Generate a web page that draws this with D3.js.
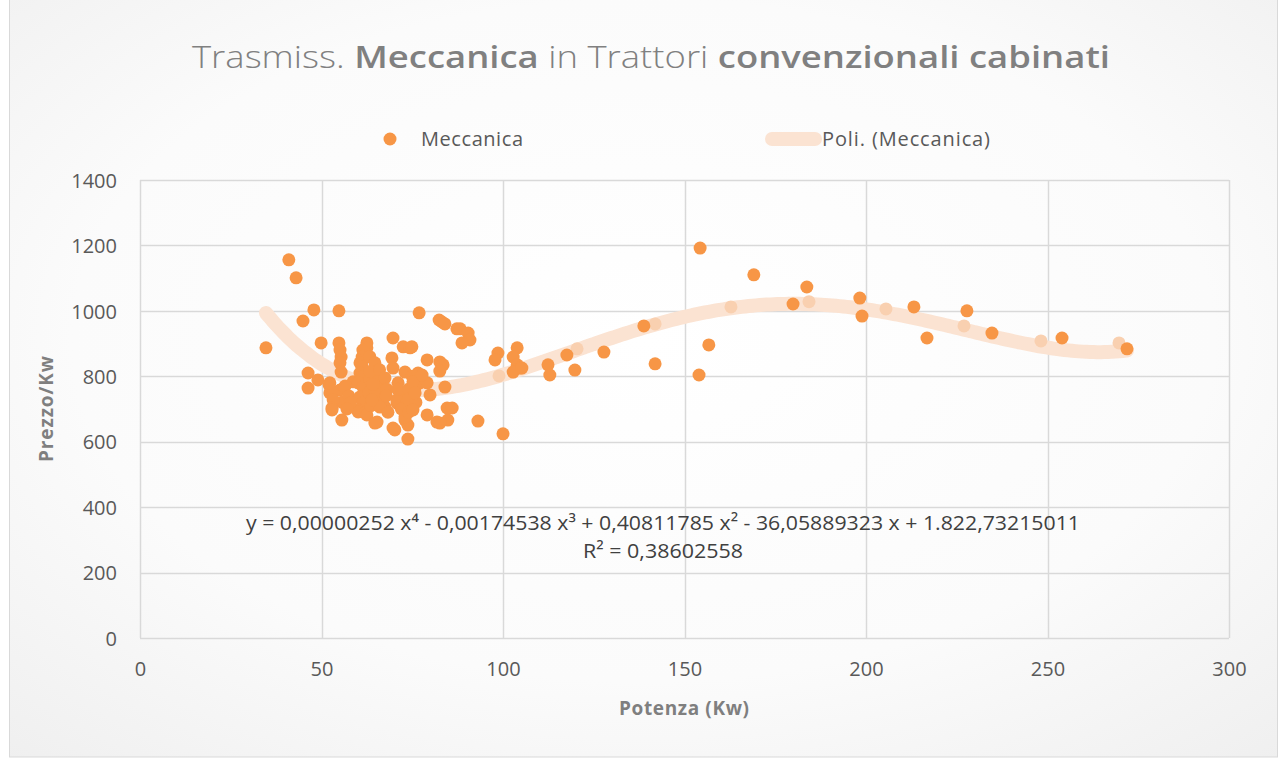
<!DOCTYPE html>
<html lang="it">
<head>
<meta charset="UTF-8">
<title>Trasmiss. Meccanica in Trattori convenzionali cabinati</title>
<style>
  body { margin: 0; background: #fff; }
  svg text { font-family: "Open Sans", sans-serif; }
</style>
</head>
<body>
<div id="chart"></div>
<script src="https://d3js.org/d3.v7.min.js"></script>
<script>
// potenza (Kw) / prezzo per Kw
var potenza = [34.7, 41.0, 43.0, 44.9, 47.9, 49.9, 46.3, 46.3, 49.0, 54.8,
  54.8, 55.1, 55.4, 55.1, 55.4, 55.1, 55.6, 55.6, 52.1, 52.3,
  53.2, 53.2, 52.9, 52.9, 58.7, 56.5, 57.5, 62.5, 62.5, 61.4,
  61.2, 61.2, 60.6, 61.2, 60.6, 61.2, 60.1, 61.4, 60.6, 61.4,
  60.1, 60.1, 62.0, 62.5, 63.3, 63.3, 63.0, 63.6, 64.7, 64.7,
  65.3, 65.3, 66.9, 66.1, 67.5, 66.1, 64.7, 63.9, 64.2, 63.4,
  66.0, 67.5, 68.0, 68.3, 67.8, 69.7, 69.4, 69.7, 73.0, 71.1,
  72.5, 70.8, 70.8, 73.6, 73.0, 70.2, 69.7, 73.8, 73.8, 72.5,
  74.4, 74.9, 73.0, 71.0, 72.0, 74.0, 74.0, 75.0, 76.0, 76.0,
  74.0, 76.9, 76.6, 77.1, 75.2, 75.8, 75.2, 79.1, 79.1, 79.9,
  79.1, 81.8, 77.7, 82.4, 83.2, 84.0, 82.6, 83.5, 82.6, 84.0,
  84.6, 86.0, 84.8, 82.6, 87.3, 88.2, 90.4, 90.9, 88.7, 93.1,
  100.0, 98.6, 97.8, 103.9, 102.8, 103.9, 104.7, 102.8, 105.2, 112.4,
  112.9, 117.6, 119.8, 127.8, 138.8, 141.9, 154.3, 156.7, 154.0, 169.1,
  179.9, 183.7, 198.3, 198.9, 213.2, 216.8, 227.8, 234.7, 254.0, 271.9,
  52.3, 58.0, 57.0];
var prezzoKw = [887, 1156, 1101, 969, 1003, 902, 810, 764, 789, 1000,
  902, 880, 859, 841, 813, 758, 721, 666, 773, 749,
  749, 728, 703, 697, 783, 770, 740, 902, 887, 880,
  859, 847, 841, 829, 810, 798, 780, 767, 737, 718,
  697, 691, 688, 682, 860, 790, 750, 710, 841, 657,
  798, 660, 767, 737, 706, 706, 758, 728, 775, 815,
  820, 795, 760, 690, 740, 917, 856, 825, 813, 780,
  749, 718, 728, 718, 666, 636, 642, 651, 608, 890,
  887, 890, 676, 760, 700, 760, 730, 800, 770, 720,
  690, 994, 810, 780, 783, 749, 697, 850, 780, 743,
  682, 660, 804, 972, 966, 960, 844, 835, 816, 767,
  703, 703, 666, 657, 945, 945, 932, 911, 902, 663,
  624, 871, 850, 887, 859, 835, 825, 813, 825, 835,
  804, 865, 819, 874, 954, 838, 1192, 896, 804, 1110,
  1021, 1073, 1039, 984, 1012, 917, 1000, 932, 917, 884,
  780, 720, 700];

// punti chiari che restano sotto la linea di tendenza
var potenzaChiari = [98.9, 120.4, 141.9, 162.8, 184.3, 205.5, 227.0, 248.2, 269.7];
var prezzoChiari = [801, 884, 960, 1012, 1028, 1006, 954, 908, 902];

// tendenza polinomiale di 4° grado (coefficienti dell'equazione mostrata)
var coeffPoli = [1822.73215011, -36.05889323, 0.40811785, -0.00174538, 0.00000252];
var xTicks = [0, 50, 100, 150, 200, 250, 300];
var yTicks = [0, 200, 400, 600, 800, 1000, 1200, 1400];

var W = 1284, H = 761;
var margin = { top: 180, right: 55, bottom: 123, left: 140 };

var svg = d3.select("#chart").append("svg")
  .attr("width", W).attr("height", H);

// sfondo con leggero sfumato
var defs = svg.append("defs");
var grad = defs.append("radialGradient").attr("id", "bg")
  .attr("cx", "50%").attr("cy", "45%").attr("r", "75%");
grad.append("stop").attr("offset", "0%").attr("stop-color", "#ffffff");
grad.append("stop").attr("offset", "60%").attr("stop-color", "#fbfbfb");
grad.append("stop").attr("offset", "100%").attr("stop-color", "#efefef");

svg.append("rect").attr("x", 9.5).attr("y", -1).attr("width", 1268).attr("height", 758)
  .attr("fill", "url(#bg)").attr("stroke", "#d9d9d9");

var x = d3.scaleLinear().domain([0, 300]).range([margin.left, W - margin.right]);
var y = d3.scaleLinear().domain([0, 1400]).range([H - margin.bottom, margin.top]);

// griglia
svg.append("g").selectAll("line").data(yTicks).enter().append("line")
  .attr("x1", x(0)).attr("x2", x(300))
  .attr("y1", function (d) { return Math.round(y(d)) + 0.5; })
  .attr("y2", function (d) { return Math.round(y(d)) + 0.5; })
  .attr("stroke", "#d9d9d9").attr("stroke-width", 1.5);
svg.append("g").selectAll("line").data(xTicks).enter().append("line")
  .attr("y1", y(0)).attr("y2", y(1400))
  .attr("x1", function (d) { return Math.round(x(d)) + 0.5; })
  .attr("x2", function (d) { return Math.round(x(d)) + 0.5; })
  .attr("stroke", "#d9d9d9").attr("stroke-width", 1.5);

// assi (solo etichette)
var xAxis = svg.append("g")
  .attr("transform", "translate(0," + y(0) + ")")
  .call(d3.axisBottom(x).tickValues(xTicks).tickFormat(d3.format("d")).tickSize(0).tickPadding(24));
var yAxis = svg.append("g")
  .attr("transform", "translate(" + x(0) + ",0)")
  .call(d3.axisLeft(y).tickValues(yTicks).tickFormat(d3.format("d")).tickSize(0).tickPadding(23));
[xAxis, yAxis].forEach(function (a) {
  a.select(".domain").remove();
  a.selectAll("text")
    .style("font-family", "'Open Sans', sans-serif")
    .style("font-size", "20px")
    .attr("fill", "#595959");
});
yAxis.selectAll("text").attr("dy", "0.36em");

// linea di tendenza
var poli = function (v) {
  var r = 0;
  for (var i = 0; i < coeffPoli.length; i++) r += coeffPoli[i] * Math.pow(v, i);
  return r;
};
var xMin = d3.min(potenza), xMax = d3.max(potenza);
var passi = d3.range(xMin, xMax, 1).concat([xMax]);
var linea = d3.line()
  .x(function (d) { return x(d); })
  .y(function (d) { return y(poli(d)); })
  .curve(d3.curveMonotoneX);
svg.append("path").datum(passi)
  .attr("d", linea)
  .attr("fill", "none")
  .attr("stroke", "#fbe3d2")
  .attr("stroke-width", 14)
  .attr("stroke-linecap", "round");

svg.append("g").selectAll("circle").data(d3.range(potenzaChiari.length)).enter()
  .append("circle")
  .attr("cx", function (i) { return x(potenzaChiari[i]); })
  .attr("cy", function (i) { return y(prezzoChiari[i]); })
  .attr("r", 6.5)
  .attr("fill", "#f9d0b0");

// punti
svg.append("g").selectAll("circle").data(d3.range(potenza.length)).enter()
  .append("circle")
  .attr("cx", function (i) { return x(potenza[i]); })
  .attr("cy", function (i) { return y(prezzoKw[i]); })
  .attr("r", 6.5)
  .attr("fill", "#f79646");

// titolo
var title = svg.append("text")
  .attr("x", 651).attr("y", 68)
  .attr("text-anchor", "middle")
  .attr("fill", "#808080")
  .style("font-size", "31px")
  .attr("textLength", 918).attr("lengthAdjust", "spacingAndGlyphs");
title.append("tspan").attr("font-weight", 300).text("Trasmiss. ");
title.append("tspan").attr("font-weight", 600).text("Meccanica");
title.append("tspan").attr("font-weight", 300).text(" in Trattori ");
title.append("tspan").attr("font-weight", 600).text("convenzionali cabinati");

// legenda
svg.append("circle").attr("cx", 390).attr("cy", 139).attr("r", 6.5).attr("fill", "#f79646");
svg.append("text").attr("x", 421).attr("y", 146).attr("fill", "#595959")
  .style("font-size", "20px").attr("textLength", 102).text("Meccanica");
svg.append("line").attr("x1", 772).attr("x2", 815).attr("y1", 139).attr("y2", 139)
  .attr("stroke", "#fbe3d2").attr("stroke-width", 14).attr("stroke-linecap", "round");
svg.append("text").attr("x", 822).attr("y", 146).attr("fill", "#595959")
  .style("font-size", "20px").attr("textLength", 168).text("Poli. (Meccanica)");

// titoli assi
svg.append("text").attr("x", 684).attr("y", 715).attr("text-anchor", "middle")
  .attr("fill", "#7f7f7f").attr("font-weight", 700).style("font-size", "19px")
  .attr("textLength", 130).text("Potenza (Kw)");
svg.append("text").attr("transform", "translate(53,409) rotate(-90)")
  .attr("text-anchor", "middle").attr("fill", "#7f7f7f").attr("font-weight", 700)
  .style("font-size", "19px").attr("textLength", 106).text("Prezzo/Kw");

// equazione
svg.append("text").attr("x", 663).attr("y", 530).attr("text-anchor", "middle")
  .attr("fill", "#404040").style("font-size", "20px")
  .attr("textLength", 834).attr("lengthAdjust", "spacingAndGlyphs")
  .text("y = 0,00000252 x⁴ - 0,00174538 x³ + 0,40811785 x² - 36,05889323 x + 1.822,73215011");
svg.append("text").attr("x", 663).attr("y", 558).attr("text-anchor", "middle")
  .attr("fill", "#404040").style("font-size", "20px")
  .attr("textLength", 160).attr("lengthAdjust", "spacingAndGlyphs")
  .text("R² = 0,38602558");
</script>
</body>
</html>
